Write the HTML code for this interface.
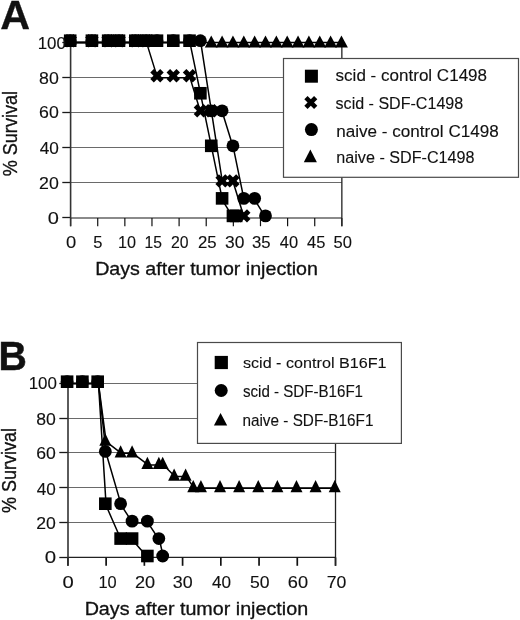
<!DOCTYPE html>
<html><head><meta charset="utf-8"><title>Survival curves</title>
<style>html,body{margin:0;padding:0;background:#fff;}svg{display:block;}text{font-family:'Liberation Sans', Arial, sans-serif;}</style>
</head><body>
<svg width="520" height="620" viewBox="0 0 520 620">
<rect width="520" height="620" fill="#fff"/>
<g fill="#000">
<line x1="70.60" y1="42.5" x2="341.85" y2="42.5" stroke="#6a6a6a" stroke-width="1.15"/>
<line x1="70.60" y1="77.5" x2="341.85" y2="77.5" stroke="#6a6a6a" stroke-width="1.15"/>
<line x1="70.60" y1="112.5" x2="341.85" y2="112.5" stroke="#6a6a6a" stroke-width="1.15"/>
<line x1="70.60" y1="147.5" x2="341.85" y2="147.5" stroke="#6a6a6a" stroke-width="1.15"/>
<line x1="70.60" y1="182.5" x2="341.85" y2="182.5" stroke="#6a6a6a" stroke-width="1.15"/>
<line x1="62.3" y1="42.5" x2="70.60" y2="42.5" stroke="#1a1a1a" stroke-width="1.3"/>
<line x1="62.3" y1="77.5" x2="70.60" y2="77.5" stroke="#1a1a1a" stroke-width="1.3"/>
<line x1="62.3" y1="112.5" x2="70.60" y2="112.5" stroke="#1a1a1a" stroke-width="1.3"/>
<line x1="62.3" y1="147.5" x2="70.60" y2="147.5" stroke="#1a1a1a" stroke-width="1.3"/>
<line x1="62.3" y1="182.5" x2="70.60" y2="182.5" stroke="#1a1a1a" stroke-width="1.3"/>
<line x1="62.3" y1="217.5" x2="70.60" y2="217.5" stroke="#1a1a1a" stroke-width="1.3"/>
<line x1="70.60" y1="218.0" x2="341.85" y2="218.0" stroke="#8a8a8a" stroke-width="2.0"/>
<line x1="70.60" y1="218.00" x2="70.60" y2="226.2" stroke="#111" stroke-width="1.2"/>
<line x1="97.72" y1="218.00" x2="97.72" y2="226.2" stroke="#111" stroke-width="1.2"/>
<line x1="124.85" y1="218.00" x2="124.85" y2="226.2" stroke="#111" stroke-width="1.2"/>
<line x1="151.97" y1="218.00" x2="151.97" y2="226.2" stroke="#111" stroke-width="1.2"/>
<line x1="179.10" y1="218.00" x2="179.10" y2="226.2" stroke="#111" stroke-width="1.2"/>
<line x1="206.22" y1="218.00" x2="206.22" y2="226.2" stroke="#111" stroke-width="1.2"/>
<line x1="233.35" y1="218.00" x2="233.35" y2="226.2" stroke="#111" stroke-width="1.2"/>
<line x1="260.48" y1="218.00" x2="260.48" y2="226.2" stroke="#111" stroke-width="1.2"/>
<line x1="287.60" y1="218.00" x2="287.60" y2="226.2" stroke="#111" stroke-width="1.2"/>
<line x1="314.73" y1="218.00" x2="314.73" y2="226.2" stroke="#111" stroke-width="1.2"/>
<line x1="341.85" y1="218.00" x2="341.85" y2="226.2" stroke="#111" stroke-width="1.2"/>
<line x1="70.60" y1="42.00" x2="70.60" y2="226.2" stroke="#333" stroke-width="1.6"/>
<line x1="341.85" y1="42.00" x2="341.85" y2="226.2" stroke="#222" stroke-width="1.3"/>
<polyline points="70.60,42.60 92.30,42.60 108.57,42.60 119.42,42.60 135.70,42.60 146.55,42.60 157.40,42.60 173.68,42.60 189.95,42.60 200.80,95.16 211.65,147.72 222.50,200.28 233.35,217.80 236.60,217.80" fill="none" stroke="#000" stroke-width="1.5" stroke-linejoin="round"/>
<polyline points="70.60,42.60 92.30,42.60 108.57,42.60 119.42,42.60 135.70,42.60 146.55,42.60 157.40,77.64 173.68,77.64 189.95,77.64 200.80,112.68 211.65,112.68 222.50,182.76 233.35,182.76 244.20,217.80" fill="none" stroke="#000" stroke-width="1.5" stroke-linejoin="round"/>
<polyline points="70.60,42.60 92.30,42.60 108.57,42.60 119.42,42.60 135.70,42.60 146.55,42.60 157.40,42.60 173.68,42.60 189.95,42.60 200.80,42.60 211.65,112.68 222.50,112.68 233.35,147.72 244.20,200.28 255.05,200.28 265.90,217.80" fill="none" stroke="#000" stroke-width="1.5" stroke-linejoin="round"/>
<polyline points="70.60,42.60 92.30,42.60 108.57,42.60 119.42,42.60 135.70,42.60 146.55,42.60 157.40,42.60 173.68,42.60 189.95,42.60 200.80,42.60 211.65,42.60 222.50,42.60 233.35,42.60 244.20,42.60 255.05,42.60 265.90,42.60 276.75,42.60 287.60,42.60 298.45,42.60 309.30,42.60 320.15,42.60 331.00,42.60 341.85,42.60" fill="none" stroke="#000" stroke-width="1.5" stroke-linejoin="round"/>
<polygon points="211.25,35.40 217.70,47.60 204.80,47.60"/>
<polygon points="222.10,35.40 228.55,47.60 215.65,47.60"/>
<polygon points="232.95,35.40 239.40,47.60 226.50,47.60"/>
<polygon points="243.80,35.40 250.25,47.60 237.35,47.60"/>
<polygon points="254.65,35.40 261.10,47.60 248.20,47.60"/>
<polygon points="265.50,35.40 271.95,47.60 259.05,47.60"/>
<polygon points="276.35,35.40 282.80,47.60 269.90,47.60"/>
<polygon points="287.20,35.40 293.65,47.60 280.75,47.60"/>
<polygon points="298.05,35.40 304.50,47.60 291.60,47.60"/>
<polygon points="308.90,35.40 315.35,47.60 302.45,47.60"/>
<polygon points="319.75,35.40 326.20,47.60 313.30,47.60"/>
<polygon points="330.60,35.40 337.05,47.60 324.15,47.60"/>
<polygon points="341.45,35.40 347.90,47.60 335.00,47.60"/>
<circle cx="70.20" cy="40.70" r="6.40"/>
<circle cx="91.90" cy="40.70" r="6.40"/>
<circle cx="108.17" cy="40.70" r="6.40"/>
<circle cx="119.02" cy="40.70" r="6.40"/>
<circle cx="135.30" cy="40.70" r="6.40"/>
<circle cx="146.15" cy="40.70" r="6.40"/>
<circle cx="157.00" cy="40.70" r="6.40"/>
<circle cx="173.28" cy="40.70" r="6.40"/>
<circle cx="189.55" cy="40.70" r="6.40"/>
<circle cx="200.40" cy="40.70" r="6.40"/>
<circle cx="211.25" cy="110.78" r="6.40"/>
<circle cx="222.10" cy="110.78" r="6.40"/>
<circle cx="232.95" cy="145.82" r="6.40"/>
<circle cx="243.80" cy="198.38" r="6.40"/>
<circle cx="254.65" cy="198.38" r="6.40"/>
<circle cx="265.50" cy="215.90" r="6.40"/>
<g transform="translate(70.20,40.70)"><rect x="-7.00" y="-2.50" width="14.00" height="5.00" transform="rotate(45)"/><rect x="-7.00" y="-2.50" width="14.00" height="5.00" transform="rotate(-45)"/></g>
<g transform="translate(91.90,40.70)"><rect x="-7.00" y="-2.50" width="14.00" height="5.00" transform="rotate(45)"/><rect x="-7.00" y="-2.50" width="14.00" height="5.00" transform="rotate(-45)"/></g>
<g transform="translate(108.17,40.70)"><rect x="-7.00" y="-2.50" width="14.00" height="5.00" transform="rotate(45)"/><rect x="-7.00" y="-2.50" width="14.00" height="5.00" transform="rotate(-45)"/></g>
<g transform="translate(119.02,40.70)"><rect x="-7.00" y="-2.50" width="14.00" height="5.00" transform="rotate(45)"/><rect x="-7.00" y="-2.50" width="14.00" height="5.00" transform="rotate(-45)"/></g>
<g transform="translate(135.30,40.70)"><rect x="-7.00" y="-2.50" width="14.00" height="5.00" transform="rotate(45)"/><rect x="-7.00" y="-2.50" width="14.00" height="5.00" transform="rotate(-45)"/></g>
<g transform="translate(146.15,40.70)"><rect x="-7.00" y="-2.50" width="14.00" height="5.00" transform="rotate(45)"/><rect x="-7.00" y="-2.50" width="14.00" height="5.00" transform="rotate(-45)"/></g>
<g transform="translate(157.00,75.74)"><rect x="-7.00" y="-2.50" width="14.00" height="5.00" transform="rotate(45)"/><rect x="-7.00" y="-2.50" width="14.00" height="5.00" transform="rotate(-45)"/></g>
<g transform="translate(173.28,75.74)"><rect x="-7.00" y="-2.50" width="14.00" height="5.00" transform="rotate(45)"/><rect x="-7.00" y="-2.50" width="14.00" height="5.00" transform="rotate(-45)"/></g>
<g transform="translate(189.55,75.74)"><rect x="-7.00" y="-2.50" width="14.00" height="5.00" transform="rotate(45)"/><rect x="-7.00" y="-2.50" width="14.00" height="5.00" transform="rotate(-45)"/></g>
<g transform="translate(200.40,110.78)"><rect x="-7.00" y="-2.50" width="14.00" height="5.00" transform="rotate(45)"/><rect x="-7.00" y="-2.50" width="14.00" height="5.00" transform="rotate(-45)"/></g>
<g transform="translate(211.25,110.78)"><rect x="-7.00" y="-2.50" width="14.00" height="5.00" transform="rotate(45)"/><rect x="-7.00" y="-2.50" width="14.00" height="5.00" transform="rotate(-45)"/></g>
<g transform="translate(222.10,180.86)"><rect x="-7.00" y="-2.50" width="14.00" height="5.00" transform="rotate(45)"/><rect x="-7.00" y="-2.50" width="14.00" height="5.00" transform="rotate(-45)"/></g>
<g transform="translate(232.95,180.86)"><rect x="-7.00" y="-2.50" width="14.00" height="5.00" transform="rotate(45)"/><rect x="-7.00" y="-2.50" width="14.00" height="5.00" transform="rotate(-45)"/></g>
<g transform="translate(243.80,215.90)"><rect x="-7.00" y="-2.50" width="14.00" height="5.00" transform="rotate(45)"/><rect x="-7.00" y="-2.50" width="14.00" height="5.00" transform="rotate(-45)"/></g>
<rect x="63.90" y="34.40" width="12.60" height="12.60"/>
<rect x="85.60" y="34.40" width="12.60" height="12.60"/>
<rect x="101.87" y="34.40" width="12.60" height="12.60"/>
<rect x="112.72" y="34.40" width="12.60" height="12.60"/>
<rect x="129.00" y="34.40" width="12.60" height="12.60"/>
<rect x="139.85" y="34.40" width="12.60" height="12.60"/>
<rect x="150.70" y="34.40" width="12.60" height="12.60"/>
<rect x="166.97" y="34.40" width="12.60" height="12.60"/>
<rect x="183.25" y="34.40" width="12.60" height="12.60"/>
<rect x="194.10" y="86.96" width="12.60" height="12.60"/>
<rect x="204.95" y="139.52" width="12.60" height="12.60"/>
<rect x="215.80" y="192.08" width="12.60" height="12.60"/>
<rect x="226.65" y="209.60" width="12.60" height="12.60"/>
<rect x="229.90" y="209.60" width="12.60" height="12.60"/>
<line x1="68.00" y1="383.5" x2="335.51" y2="383.5" stroke="#6a6a6a" stroke-width="1.15"/>
<line x1="68.00" y1="418.5" x2="335.51" y2="418.5" stroke="#6a6a6a" stroke-width="1.15"/>
<line x1="68.00" y1="452.5" x2="335.51" y2="452.5" stroke="#6a6a6a" stroke-width="1.15"/>
<line x1="68.00" y1="487.5" x2="335.51" y2="487.5" stroke="#6a6a6a" stroke-width="1.15"/>
<line x1="68.00" y1="522.5" x2="335.51" y2="522.5" stroke="#6a6a6a" stroke-width="1.15"/>
<line x1="59.3" y1="383.5" x2="68.00" y2="383.5" stroke="#1a1a1a" stroke-width="1.3"/>
<line x1="59.3" y1="418.5" x2="68.00" y2="418.5" stroke="#1a1a1a" stroke-width="1.3"/>
<line x1="59.3" y1="452.5" x2="68.00" y2="452.5" stroke="#1a1a1a" stroke-width="1.3"/>
<line x1="59.3" y1="487.5" x2="68.00" y2="487.5" stroke="#1a1a1a" stroke-width="1.3"/>
<line x1="59.3" y1="522.5" x2="68.00" y2="522.5" stroke="#1a1a1a" stroke-width="1.3"/>
<line x1="59.3" y1="557.5" x2="68.00" y2="557.5" stroke="#1a1a1a" stroke-width="1.3"/>
<line x1="68.00" y1="557.4" x2="335.51" y2="557.4" stroke="#222" stroke-width="1.4"/>
<line x1="67.90" y1="557.40" x2="67.90" y2="565.8" stroke="#111" stroke-width="1.7"/>
<line x1="106.13" y1="557.40" x2="106.13" y2="565.8" stroke="#111" stroke-width="1.7"/>
<line x1="144.36" y1="557.40" x2="144.36" y2="565.8" stroke="#111" stroke-width="1.7"/>
<line x1="182.59" y1="557.40" x2="182.59" y2="565.8" stroke="#111" stroke-width="1.7"/>
<line x1="220.82" y1="557.40" x2="220.82" y2="565.8" stroke="#111" stroke-width="1.7"/>
<line x1="259.05" y1="557.40" x2="259.05" y2="565.8" stroke="#111" stroke-width="1.7"/>
<line x1="297.28" y1="557.40" x2="297.28" y2="565.8" stroke="#111" stroke-width="1.7"/>
<line x1="335.51" y1="557.40" x2="335.51" y2="565.8" stroke="#111" stroke-width="1.7"/>
<line x1="68.00" y1="383.00" x2="68.00" y2="565.8" stroke="#333" stroke-width="1.6"/>
<line x1="335.51" y1="383.00" x2="335.51" y2="565.8" stroke="#222" stroke-width="1.3"/>
<polyline points="67.90,383.60 83.19,383.60 98.48,383.60 106.13,505.61 121.42,540.47 132.89,540.47 148.18,557.90" fill="none" stroke="#000" stroke-width="1.5" stroke-linejoin="round"/>
<polyline points="67.90,383.60 83.19,383.60 98.48,383.60 106.13,453.32 121.42,505.61 132.89,523.04 148.18,523.04 159.65,540.47 163.48,557.90" fill="none" stroke="#000" stroke-width="1.5" stroke-linejoin="round"/>
<polyline points="67.90,383.60 83.19,383.60 98.48,383.60 106.13,441.69 121.42,453.32 132.89,453.32 148.18,464.95 159.65,464.95 163.48,464.95 174.94,476.55 186.41,476.55 194.06,488.18 201.71,488.18 220.82,488.18 239.94,488.18 259.05,488.18 278.16,488.18 297.28,488.18 316.39,488.18 335.51,488.18" fill="none" stroke="#000" stroke-width="1.5" stroke-linejoin="round"/>
<polygon points="105.33,433.59 111.33,445.79 99.33,445.79"/>
<polygon points="120.62,445.22 126.62,457.42 114.62,457.42"/>
<polygon points="132.09,445.22 138.09,457.42 126.09,457.42"/>
<polygon points="147.38,456.85 153.38,469.05 141.38,469.05"/>
<polygon points="158.85,456.85 164.85,469.05 152.85,469.05"/>
<polygon points="162.68,456.85 168.68,469.05 156.68,469.05"/>
<polygon points="174.14,468.45 180.14,480.65 168.14,480.65"/>
<polygon points="185.61,468.45 191.61,480.65 179.61,480.65"/>
<polygon points="193.26,480.08 199.26,492.28 187.26,492.28"/>
<polygon points="200.91,480.08 206.91,492.28 194.91,492.28"/>
<polygon points="220.02,480.08 226.02,492.28 214.02,492.28"/>
<polygon points="239.13,480.08 245.13,492.28 233.13,492.28"/>
<polygon points="258.25,480.08 264.25,492.28 252.25,492.28"/>
<polygon points="277.36,480.08 283.36,492.28 271.36,492.28"/>
<polygon points="296.48,480.08 302.48,492.28 290.48,492.28"/>
<polygon points="315.59,480.08 321.59,492.28 309.59,492.28"/>
<polygon points="334.71,480.08 340.71,492.28 328.71,492.28"/>
<circle cx="67.10" cy="381.70" r="6.40"/>
<circle cx="82.39" cy="381.70" r="6.40"/>
<circle cx="97.68" cy="381.70" r="6.40"/>
<circle cx="105.33" cy="451.42" r="6.40"/>
<circle cx="120.62" cy="503.71" r="6.40"/>
<circle cx="132.09" cy="521.14" r="6.40"/>
<circle cx="147.38" cy="521.14" r="6.40"/>
<circle cx="158.85" cy="538.57" r="6.40"/>
<circle cx="162.68" cy="556.00" r="6.40"/>
<rect x="60.80" y="375.40" width="12.60" height="12.60"/>
<rect x="76.09" y="375.40" width="12.60" height="12.60"/>
<rect x="91.38" y="375.40" width="12.60" height="12.60"/>
<rect x="99.03" y="497.41" width="12.60" height="12.60"/>
<rect x="114.32" y="532.27" width="12.60" height="12.60"/>
<rect x="125.79" y="532.27" width="12.60" height="12.60"/>
<rect x="141.08" y="549.70" width="12.60" height="12.60"/>
</g>
<g fill="#000">
<rect x="283.5" y="58.5" width="235.0" height="118.8" fill="#fff" stroke="#4a4a4a" stroke-width="1.2"/>
<rect x="197.5" y="342.5" width="203.9" height="100.9" fill="#fff" stroke="#4a4a4a" stroke-width="1.2"/>
<rect x="304.90" y="69.70" width="13.00" height="13.00"/>
<g transform="translate(310.80,102.60)"><rect x="-6.90" y="-2.30" width="13.80" height="4.60" transform="rotate(45)"/><rect x="-6.90" y="-2.30" width="13.80" height="4.60" transform="rotate(-45)"/></g>
<circle cx="311.40" cy="129.60" r="6.50"/>
<polygon points="310.35,149.60 316.90,162.30 303.80,162.30"/>
<rect x="214.70" y="355.90" width="13.20" height="13.20"/>
<circle cx="221.20" cy="390.50" r="6.50"/>
<polygon points="220.55,413.00 227.20,425.60 213.90,425.60"/>
</g>
<g fill="#111" stroke="#111" font-family="'Liberation Sans', Arial, sans-serif">
<text x="0" y="0" font-size="40" font-weight="bold" stroke-width="0.3" transform="matrix(1.0333,0,0,1.0198,0.167,29.200)">A</text>
<text x="0" y="0" font-size="40" font-weight="bold" stroke-width="0.5" transform="matrix(0.9818,0,0,1.0179,-1.555,370.146)">B</text>
<text x="0" y="0" font-size="16" font-weight="normal" stroke-width="0.12" transform="matrix(1.0560,0,0,1.0174,37.680,48.646)">100</text>
<text x="0" y="0" font-size="16" font-weight="normal" stroke-width="0.12" transform="matrix(1.1091,0,0,1.0348,39.068,83.641)">80</text>
<text x="0" y="0" font-size="16" font-weight="normal" stroke-width="0.12" transform="matrix(1.1091,0,0,1.0435,39.068,118.339)">60</text>
<text x="0" y="0" font-size="16" font-weight="normal" stroke-width="0.12" transform="matrix(1.0765,0,0,1.0087,39.631,153.648)">40</text>
<text x="0" y="0" font-size="16" font-weight="normal" stroke-width="0.12" transform="matrix(1.1091,0,0,1.0087,39.068,189.148)">20</text>
<text x="0" y="0" font-size="16" font-weight="normal" stroke-width="0.12" transform="matrix(1.2516,0,0,1.0174,47.874,224.046)">0</text>
<text x="0" y="0" font-size="16" font-weight="normal" stroke-width="0.12" transform="matrix(1.1484,0,0,1.0174,65.926,248.246)">0</text>
<text x="0" y="0" font-size="16" font-weight="normal" stroke-width="0.12" transform="matrix(1.0323,0,0,1.0400,93.284,248.240)">5</text>
<text x="0" y="0" font-size="16" font-weight="normal" stroke-width="0.12" transform="matrix(1.0125,0,0,1.0174,117.934,248.246)">10</text>
<text x="0" y="0" font-size="16" font-weight="normal" stroke-width="0.12" transform="matrix(0.9812,0,0,1.0400,144.573,248.240)">15</text>
<text x="0" y="0" font-size="16" font-weight="normal" stroke-width="0.12" transform="matrix(0.9879,0,0,1.0174,170.959,248.246)">20</text>
<text x="0" y="0" font-size="16" font-weight="normal" stroke-width="0.12" transform="matrix(1.0485,0,0,1.0174,197.914,248.246)">25</text>
<text x="0" y="0" font-size="16" font-weight="normal" stroke-width="0.12" transform="matrix(1.0896,0,0,1.0174,224.955,248.246)">30</text>
<text x="0" y="0" font-size="16" font-weight="normal" stroke-width="0.12" transform="matrix(1.0448,0,0,1.0174,251.978,248.246)">35</text>
<text x="0" y="0" font-size="16" font-weight="normal" stroke-width="0.12" transform="matrix(1.0294,0,0,1.0174,279.743,248.246)">40</text>
<text x="0" y="0" font-size="16" font-weight="normal" stroke-width="0.12" transform="matrix(1.0294,0,0,1.0400,307.043,248.240)">45</text>
<text x="0" y="0" font-size="16" font-weight="normal" stroke-width="0.12" transform="matrix(1.0328,0,0,1.0174,333.484,248.246)">50</text>
<text x="0" y="0" font-size="16" font-weight="normal" stroke-width="0.12" transform="matrix(1.0600,0,0,1.0348,28.675,389.441)">100</text>
<text x="0" y="0" font-size="16" font-weight="normal" stroke-width="0.12" transform="matrix(1.1030,0,0,1.0522,36.273,424.537)">80</text>
<text x="0" y="0" font-size="16" font-weight="normal" stroke-width="0.12" transform="matrix(1.1030,0,0,1.0435,36.273,459.339)">60</text>
<text x="0" y="0" font-size="16" font-weight="normal" stroke-width="0.12" transform="matrix(1.0706,0,0,1.0522,36.832,494.737)">40</text>
<text x="0" y="0" font-size="16" font-weight="normal" stroke-width="0.12" transform="matrix(1.1030,0,0,1.0696,36.273,529.133)">20</text>
<text x="0" y="0" font-size="16" font-weight="normal" stroke-width="0.12" transform="matrix(1.2774,0,0,1.0435,44.761,563.339)">0</text>
<text x="0" y="0" font-size="16" font-weight="normal" stroke-width="0.12" transform="matrix(1.2645,0,0,1.0087,62.468,587.648)">0</text>
<text x="0" y="0" font-size="16" font-weight="normal" stroke-width="0.12" transform="matrix(1.0250,0,0,1.0087,98.419,587.648)">10</text>
<text x="0" y="0" font-size="16" font-weight="normal" stroke-width="0.12" transform="matrix(1.1333,0,0,1.0087,134.950,587.648)">20</text>
<text x="0" y="0" font-size="16" font-weight="normal" stroke-width="0.12" transform="matrix(1.1164,0,0,1.0087,172.742,587.648)">30</text>
<text x="0" y="0" font-size="16" font-weight="normal" stroke-width="0.12" transform="matrix(1.0706,0,0,1.0087,211.932,587.648)">40</text>
<text x="0" y="0" font-size="16" font-weight="normal" stroke-width="0.12" transform="matrix(1.0985,0,0,1.0087,250.051,587.648)">50</text>
<text x="0" y="0" font-size="16" font-weight="normal" stroke-width="0.12" transform="matrix(1.1394,0,0,1.0087,287.745,587.648)">60</text>
<text x="0" y="0" font-size="16" font-weight="normal" stroke-width="0.12" transform="matrix(1.1030,0,0,1.0087,326.773,587.648)">70</text>
<text x="0" y="0" font-size="18" font-weight="normal" stroke-width="0.3" transform="matrix(1.0924,0,0,1.0353,95.134,275.218)">Days after tumor injection</text>
<text x="0" y="0" font-size="18" font-weight="normal" stroke-width="0.3" transform="matrix(1.0959,0,0,1.0353,84.630,615.018)">Days after tumor injection</text>
<text x="0" y="0" font-size="18" font-weight="normal" stroke-width="0.3" transform="matrix(0,-1.0048,1.0815,0,17.230,176.302)">% Survival</text>
<text x="0" y="0" font-size="18" font-weight="normal" stroke-width="0.3" transform="matrix(0,-1.0000,1.0963,0,15.726,513.000)">% Survival</text>
<text x="0" y="0" font-size="16" font-weight="normal" stroke-width="0.12" transform="matrix(1.0662,0,0,1.0000,335.567,81.150)">scid - control C1498</text>
<text x="0" y="0" font-size="16" font-weight="normal" stroke-width="0.12" transform="matrix(1.0040,0,0,1.0383,335.598,108.740)">scid - SDF-C1498</text>
<text x="0" y="0" font-size="16" font-weight="normal" stroke-width="0.12" transform="matrix(1.0698,0,0,0.9750,336.230,137.056)">naive - control C1498</text>
<text x="0" y="0" font-size="16" font-weight="normal" stroke-width="0.12" transform="matrix(1.0107,0,0,1.0383,336.289,162.740)">naive - SDF-C1498</text>
<text x="0" y="0" font-size="16" font-weight="normal" stroke-width="0.12" transform="matrix(1.0106,0,0,0.9667,242.895,368.158)">scid - control B16F1</text>
<text x="0" y="0" font-size="16" font-weight="normal" stroke-width="0.12" transform="matrix(0.9460,0,0,0.9957,242.927,396.751)">scid - SDF-B16F1</text>
<text x="0" y="0" font-size="16" font-weight="normal" stroke-width="0.12" transform="matrix(0.9567,0,0,1.0213,242.443,425.645)">naive - SDF-B16F1</text>
</g>
</svg>
</body></html>
